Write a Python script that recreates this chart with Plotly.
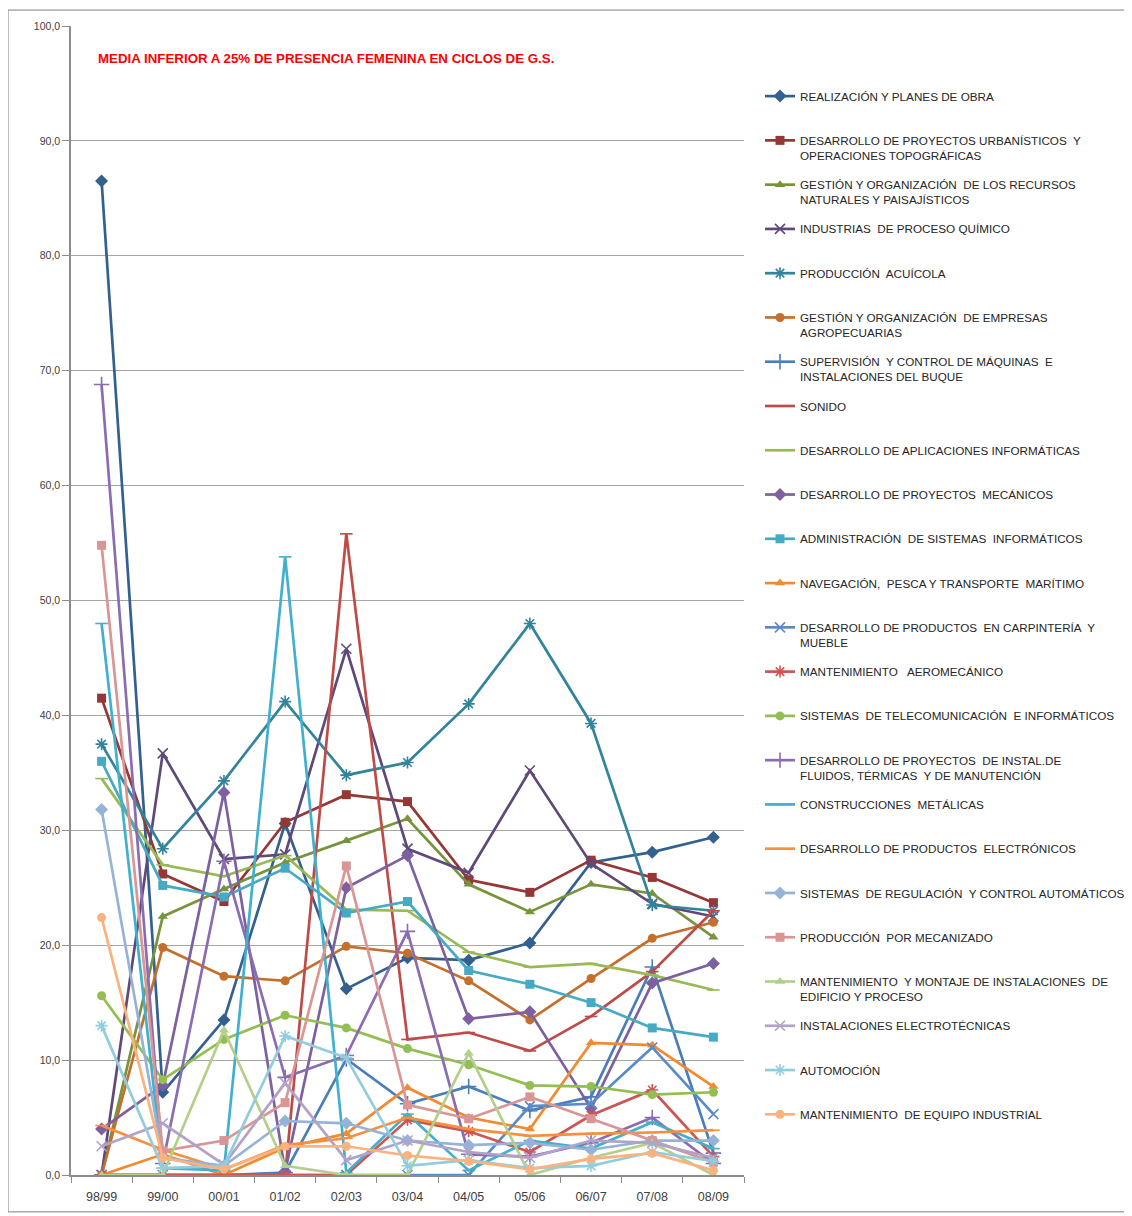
import plotly.graph_objects as go

years = ["98/99", "99/00", "00/01", "01/02", "02/03", "03/04", "04/05", "05/06", "06/07", "07/08", "08/09"]

names = [
    "REALIZACIÓN Y PLANES DE OBRA",
    "DESARROLLO DE PROYECTOS URBANÍSTICOS  Y<br>OPERACIONES TOPOGRÁFICAS",
    "GESTIÓN Y ORGANIZACIÓN  DE LOS RECURSOS<br>NATURALES Y PAISAJÍSTICOS",
    "INDUSTRIAS  DE PROCESO QUÍMICO",
    "PRODUCCIÓN  ACUÍCOLA",
    "GESTIÓN Y ORGANIZACIÓN  DE EMPRESAS<br>AGROPECUARIAS",
    "SUPERVISIÓN  Y CONTROL DE MÁQUINAS  E<br>INSTALACIONES DEL BUQUE",
    "SONIDO",
    "DESARROLLO DE APLICACIONES INFORMÁTICAS",
    "DESARROLLO DE PROYECTOS  MECÁNICOS",
    "ADMINISTRACIÓN  DE SISTEMAS  INFORMÁTICOS",
    "NAVEGACIÓN,  PESCA Y TRANSPORTE  MARÍTIMO",
    "DESARROLLO DE PRODUCTOS  EN CARPINTERÍA  Y<br>MUEBLE",
    "MANTENIMIENTO   AEROMECÁNICO",
    "SISTEMAS  DE TELECOMUNICACIÓN  E INFORMÁTICOS",
    "DESARROLLO DE PROYECTOS  DE INSTAL.DE<br>FLUIDOS, TÉRMICAS  Y DE MANUTENCIÓN",
    "CONSTRUCCIONES  METÁLICAS",
    "DESARROLLO DE PRODUCTOS  ELECTRÓNICOS",
    "SISTEMAS  DE REGULACIÓN  Y CONTROL AUTOMÁTICOS",
    "PRODUCCIÓN  POR MECANIZADO",
    "MANTENIMIENTO  Y MONTAJE DE INSTALACIONES  DE<br>EDIFICIO Y PROCESO",
    "INSTALACIONES ELECTROTÉCNICAS",
    "AUTOMOCIÓN",
    "MANTENIMIENTO  DE EQUIPO INDUSTRIAL",
]

s1 = [86.5, 7.2, 13.5, 30.6, 16.2, 18.9, 18.7, 20.2, 27.2, 28.1, 29.4]
s2 = [41.5, 26.2, 23.8, 30.7, 33.1, 32.5, 25.7, 24.6, 27.4, 25.9, 23.7]
s3 = [0.0, 22.5, 24.9, 27.2, 29.1, 31.0, 25.3, 22.9, 25.3, 24.5, 20.7]
s4 = [0.0, 36.7, 27.5, 27.9, 45.8, 28.4, 26.3, 35.2, 27.1, 23.6, 22.5]
s5 = [37.5, 28.4, 34.3, 41.2, 34.8, 35.9, 41.0, 48.0, 39.3, 23.5, 23.0]
s6 = [0.0, 19.8, 17.3, 16.9, 19.9, 19.3, 16.9, 13.5, 17.1, 20.6, 22.0]
s7 = [0.0, 0.0, 0.0, 0.2, 10.1, 6.2, 7.7, 5.6, 6.8, 18.1, 1.9]
s8 = [0.0, 0.0, 0.0, 0.0, 55.8, 11.8, 12.4, 10.8, 13.8, 17.7, 23.0]
s9 = [34.5, 27.0, 26.0, 27.8, 23.1, 23.0, 19.4, 18.1, 18.4, 17.4, 16.1]
s10 = [4.0, 7.8, 33.3, 0.3, 25.0, 27.8, 13.6, 14.2, 5.8, 16.7, 18.4]
s11 = [36.0, 25.2, 24.2, 26.7, 22.8, 23.8, 17.8, 16.6, 15.0, 12.8, 12.0]
s12 = [0.0, 1.8, 0.0, 2.4, 3.6, 7.6, 5.0, 4.0, 11.5, 11.3, 7.7]
s13 = [0.0, 0.0, 0.0, 0.0, 0.0, 0.0, 0.0, 6.0, 6.2, 11.1, 5.3]
s14 = [0.0, 0.0, 0.0, 0.0, 0.0, 4.8, 3.8, 2.0, 5.2, 7.4, 1.6]
s15 = [15.6, 8.3, 11.8, 13.9, 12.8, 11.0, 9.6, 7.8, 7.7, 7.0, 7.2]
s16 = [68.8, 1.0, 27.3, 8.5, 10.4, 21.2, 1.8, 1.6, 2.8, 5.0, 1.0]
s17 = [48.0, 0.6, 0.4, 53.8, 0.2, 5.3, 0.4, 3.0, 2.3, 4.6, 2.3]
s18 = [4.3, 2.2, 0.5, 2.6, 3.2, 5.0, 4.0, 3.4, 3.6, 3.7, 3.9]
s19 = [31.8, 1.5, 0.8, 4.7, 4.5, 3.0, 2.6, 2.8, 2.2, 3.0, 3.0]
s20 = [54.8, 2.1, 3.0, 6.3, 26.9, 6.1, 4.9, 6.8, 4.9, 3.0, 1.1]
s21 = [0.0, 0.0, 12.6, 0.8, 0.0, 0.0, 10.6, 0.0, 1.5, 2.8, 0.0]
s22 = [2.5, 4.5, 0.9, 8.0, 1.3, 3.0, 2.0, 1.5, 3.0, 2.8, 1.5]
s23 = [13.0, 0.6, 0.8, 12.1, 10.2, 0.8, 1.3, 0.6, 0.8, 2.0, 1.2]
s24 = [22.4, 1.5, 0.5, 2.5, 2.5, 1.7, 1.2, 0.5, 1.4, 1.9, 0.4]

series = [s1, s2, s3, s4, s5, s6, s7, s8, s9, s10, s11, s12,
          s13, s14, s15, s16, s17, s18, s19, s20, s21, s22, s23, s24]

colors = ["#34608F", "#953735", "#77933C", "#5F497A", "#31849B", "#C46F2C",
          "#4A7EBB", "#BE4B48", "#98B954", "#7D60A0", "#46AAC5", "#F38A30",
          "#5B8BC7", "#CD5654", "#93BE52", "#8A6CB0", "#41B0CC", "#F7903E",
          "#95B3D7", "#D99694", "#B3CF8A", "#B3A2C7", "#93CDDD", "#FAB27F"]

base_symbols = ["diamond", "square", "triangle-up", "x-thin", "asterisk", "circle",
                "cross-thin", "line-ew", "line-ew"]
symbols = base_symbols + base_symbols + base_symbols[:6]
sizes = {"diamond": 10, "square": 9, "triangle-up": 9, "x-thin": 10, "asterisk": 10,
         "circle": 9, "cross-thin": 11, "line-ew": 9}

fig = go.Figure()
for i, (nm, ys) in enumerate(zip(names, series)):
    sym = symbols[i]
    col = colors[i]
    label = nm if "<br>" in nm else nm + "<br>\u00a0"
    line_sym = sym in ("x-thin", "asterisk", "cross-thin", "line-ew")
    fig.add_trace(go.Scatter(
        x=years, y=ys, name=label, mode="lines+markers",
        legendgroup="g%d" % i,
        line=dict(color=col, width=2.7),
        marker=dict(symbol=sym, size=sizes[sym], color=col,
                    line=dict(color=col, width=1.6 if line_sym else 0)),
    ))

# page has an 8px body margin; work in page coordinates and subtract it
OFF = 8
W, H = 1132 - OFF, 1216 - OFF
px_left, px_right, px_top, px_bottom = 71, 744, 22, 1175
L = px_left - OFF
T = px_top - OFF
R = W - (px_right - OFF)
B = H - (px_bottom - OFF)
pw = px_right - px_left
ph = px_bottom - px_top

FONT = "Liberation Sans, Arial, sans-serif"

fig.update_layout(
    width=W, height=H,
    margin=dict(l=L, r=R, t=T, b=B, pad=0),
    paper_bgcolor="white", plot_bgcolor="white",
    separators=",.",
    font=dict(family=FONT, size=11, color="#404040"),
    showlegend=True,
    legend=dict(
        xref="container", yref="container",
        x=(760 - OFF) / W, y=1 - (82 - OFF) / H, xanchor="left", yanchor="top",
        font=dict(family=FONT, size=11.7, color="#262626"),
        tracegroupgap=10.85, valign="top", itemwidth=30,
        bgcolor="rgba(0,0,0,0)", maxheight=1190,
    ),
    xaxis=dict(
        type="category", range=[-0.5, 10.5], tickson="boundaries",
        ticks="outside", ticklen=6, tickcolor="#8C8C8C",
        showline=True, linecolor="#8C8C8C", linewidth=1.5,
        showgrid=False, tickfont=dict(size=12.5, color="#404040"),
        ticklabelstandoff=9,
    ),
    yaxis=dict(
        range=[0, 100], dtick=10, tickformat=".1f",
        ticks="outside", ticklen=7, tickcolor="#8C8C8C",
        showline=True, linecolor="#8C8C8C", linewidth=1.5,
        showgrid=True, gridcolor="#A6A6A6", gridwidth=1.2,
        zeroline=False, tickfont=dict(size=10.5, color="#404040"),
    ),
    annotations=[dict(
        xref="paper", yref="paper", x=(96 - px_left) / pw, y=(px_bottom - 55) / ph,
        xanchor="left", yanchor="middle", showarrow=False,
        text="<b>MEDIA INFERIOR A 25% DE PRESENCIA FEMENINA EN CICLOS DE G.S.</b>",
        font=dict(family=FONT, size=13.3, color="#FF0000"),
    )],
    shapes=[dict(
        type="rect", xref="paper", yref="paper",
        x0=(8 - px_left) / pw, x1=(1130 - px_left) / pw,
        y0=(px_bottom - 1212) / ph, y1=(px_bottom - 6) / ph,
        line=dict(color="#7F7F7F", width=1), fillcolor="rgba(0,0,0,0)", layer="below",
    )],
)

fig.write_html("out.html")
